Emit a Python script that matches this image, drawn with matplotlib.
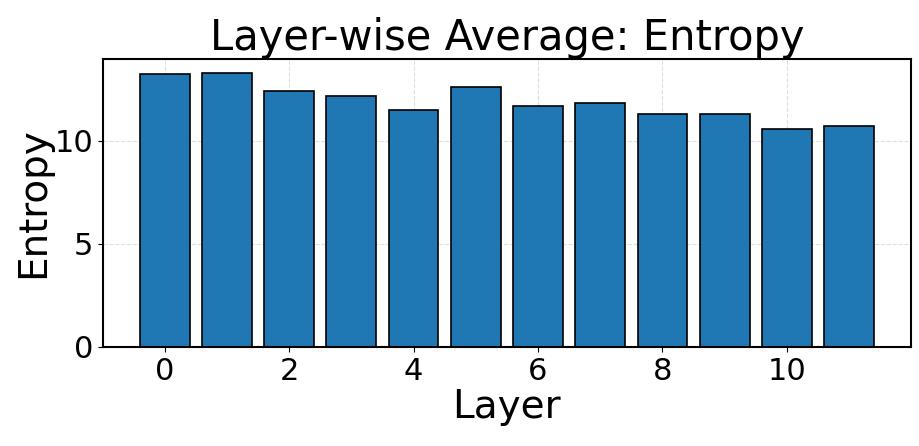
import matplotlib.pyplot as plt

layers = list(range(12))
entropy = [13.25, 13.32, 12.43, 12.17, 11.52, 12.6, 11.68, 11.83, 11.31, 11.33, 10.6, 10.73]

fig, ax = plt.subplots(figsize=(9.2, 4.46), dpi=100)
ax.bar(layers, entropy, color="#1f77b4", edgecolor="black", linewidth=1.2)

ax.set_title("Layer-wise Average: Entropy", fontsize=30)
ax.set_xlabel("Layer", fontsize=28, labelpad=2)
ax.set_ylabel("Entropy", fontsize=28, labelpad=2)
ax.tick_params(labelsize=22)
ax.grid(True, linestyle="--", alpha=0.4)
ax.set_axisbelow(True)
for s in ax.spines.values():
    s.set_linewidth(1.5)

fig.subplots_adjust(left=0.112, right=0.99, top=0.868, bottom=0.222)
fig.savefig("out.png")
